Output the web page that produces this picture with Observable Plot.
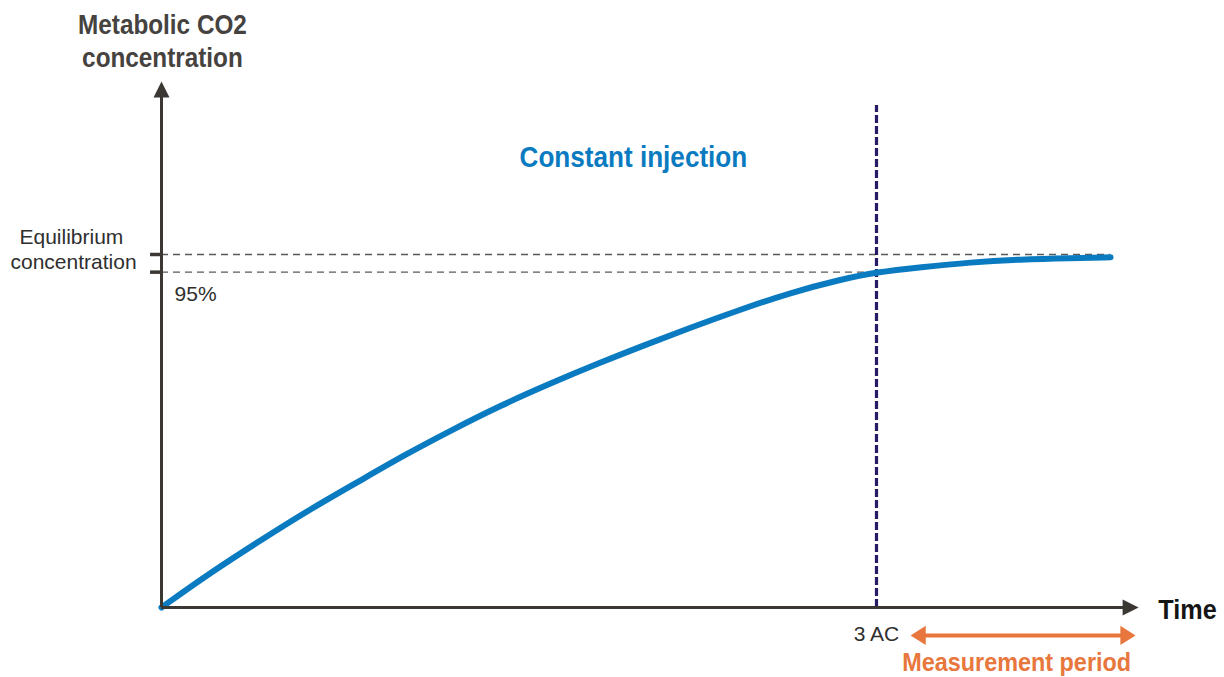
<!DOCTYPE html>
<html>
<head>
<meta charset="utf-8">
<script src="https://cdn.jsdelivr.net/npm/d3@7"></script>
<script src="https://cdn.jsdelivr.net/npm/@observablehq/plot@0.6"></script>
<style>
  html, body { margin: 0; padding: 0; background: #fff; overflow: hidden; }
  #chart svg { display: block; }
</style>
</head>
<body>
<div id="chart"></div>
<script>
// ---- data ----
// time in units of air changes (AC); concentration as fraction of equilibrium
const time = [0, 0.206, 0.415, 0.625, 0.835, 1.028, 1.213, 1.422, 1.632, 1.842, 2.010, 2.220, 2.429, 2.639, 2.849, 3.0, 3.185, 3.394, 3.604, 3.814, 3.982];
const conc = [0, 0.099, 0.190, 0.279, 0.360, 0.435, 0.501, 0.572, 0.635, 0.694, 0.739, 0.793, 0.844, 0.892, 0.929, 0.950, 0.964, 0.978, 0.986, 0.990, 0.992];
const levels = [1, 0.95];                 // equilibrium and 95 % of it
const levelEnds = [3.982, 3.0];           // where each dashed guide stops
const markerTime = 3;                      // 3 AC
const timeEnd = 4.1;                       // end of time axis
const concEnd = 1.49;                      // end of concentration axis
const measureStart = 3.143, measureEnd = 4.087;

const curve = time.map((t, i) => ({t, c: conc[i]}));

const FONT = "'Liberation Sans Narrow', 'Arial Narrow', 'Liberation Sans', Arial, sans-serif";

// custom filled arrowhead symbols (tip at the anchor point)
function arrowSym(dir, lenK, halfK) {
  return {
    draw(ctx, size) {
      const r = Math.sqrt(size / Math.PI);
      const L = r * lenK, W = r * halfK;
      if (dir === "right") { ctx.moveTo(0, 0); ctx.lineTo(-L, -W); ctx.lineTo(-L, W); }
      if (dir === "left")  { ctx.moveTo(0, 0); ctx.lineTo(L, -W); ctx.lineTo(L, W); }
      if (dir === "up")    { ctx.moveTo(0, 0); ctx.lineTo(-W, L); ctx.lineTo(W, L); }
      ctx.closePath();
    }
  };
}

const AX = "#3b3733";
const plot = Plot.plot({
  width: 1224,
  height: 677,
  margin: 0,
  x: {domain: [-161 / 238.33, (1224 - 161) / 238.33], axis: null},
  y: {domain: [(607 - 677) / 353, 607 / 353], axis: null},
  style: {fontFamily: FONT, background: "#fff", overflow: "visible"},
  marks: [
    // dashed guide lines
    Plot.ruleY(levels, {x1: 0, x2: (d, i) => levelEnds[i], stroke: "#5a5a5a", strokeWidth: 1.3, strokeDasharray: "7,5"}),
    // vertical 3 AC line
    Plot.ruleX([markerTime], {y1: 0, y2: 1.422, stroke: "#261c66", strokeWidth: 3.2, strokeDasharray: "8,3"}),
    // curve
    Plot.line(curve, {x: "t", y: "c", curve: "basis", stroke: "#0a7bc0", strokeWidth: 6, strokeLinecap: "round"}),
    // axes
    Plot.ruleY([0], {x1: 0, x2: timeEnd - 0.05, stroke: AX, strokeWidth: 3}),
    Plot.ruleX([0], {y1: 0, y2: concEnd - 0.03, stroke: AX, strokeWidth: 3}),
    Plot.dot([timeEnd], {x: d => d, y: 0, symbol: arrowSym("right", 2, 1), r: 8, fill: AX, stroke: null}),
    Plot.dot([concEnd], {x: 0, y: d => d, symbol: arrowSym("up", 2, 1), r: 8, fill: AX, stroke: null}),
    // y ticks for the two levels
    Plot.ruleY(levels, {x1: -0.046, x2: 0, stroke: AX, strokeWidth: 3.5}),
    // measurement period arrow
    Plot.ruleY([-0.079], {x1: measureStart + 0.04, x2: measureEnd - 0.04, stroke: "#e8773d", strokeWidth: 4}),
    Plot.dot([measureStart], {x: d => d, y: -0.079, symbol: arrowSym("left", 1.9, 1.2), r: 8, fill: "#e8773d", stroke: null}),
    Plot.dot([measureEnd], {x: d => d, y: -0.079, symbol: arrowSym("right", 1.9, 1.2), r: 8, fill: "#e8773d", stroke: null}),
    // texts
    Plot.text(["Metabolic CO2", "concentration"], {x: 0.004, y: (d, i) => [1.649, 1.555][i], text: d => d, fontSize: 27, fontWeight: "bold", fill: "#454240"}),
    Plot.text(["Equilibrium", "concentration"], {x: (d, i) => [-0.378, -0.369][i], y: (d, i) => [1.050, 0.977][i], text: d => d, fontSize: 21, fill: "#2f2f2f"}),
    Plot.text(["95%"], {x: 0.143, y: 0.886, text: d => d, fontSize: 21, fill: "#2f2f2f"}),
    Plot.text(["3 AC"], {x: markerTime, y: -0.077, text: d => d, fontSize: 21, fill: "#2f2f2f"}),
    Plot.text(["Constant injection"], {x: 1.980, y: 1.273, text: d => d, fontSize: 29, fontWeight: "bold", fill: "#0a7bc0"}),
    Plot.text(["Time"], {x: 4.305, y: -0.006, text: d => d, fontSize: 28, fontWeight: "bold", fill: "#151515"}),
    Plot.text(["Measurement period"], {x: 3.588, y: -0.157, text: d => d, fontSize: 26, fontWeight: "bold", fill: "#e8773d"})
  ]
});
document.getElementById("chart").appendChild(plot);

// the reference uses a condensed bold face: narrow the bold labels a little
plot.querySelectorAll("text").forEach(el => {
  const w = getComputedStyle(el).fontWeight;
  if (w === "700" || w === "bold") {
    const len = el.getComputedTextLength();
    el.setAttribute("textLength", (len * 0.9).toFixed(1));
    el.setAttribute("lengthAdjust", "spacingAndGlyphs");
  }
});
</script>
</body>
</html>
